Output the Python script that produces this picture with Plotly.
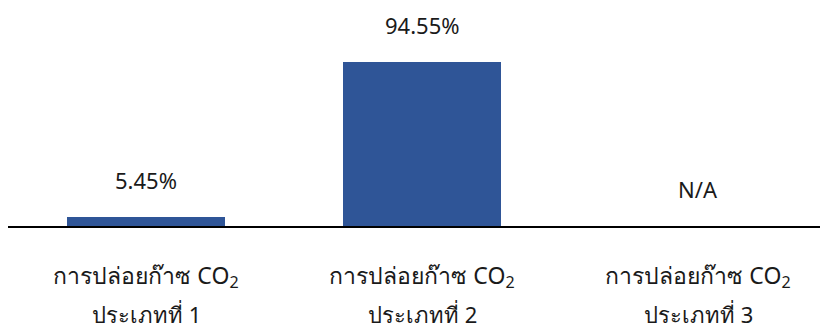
import plotly.graph_objects as go

# ---- data ----
category_line1 = ["การปล่อยก๊าซ CO<sub>2</sub>", "การปล่อยก๊าซ CO<sub>2</sub>", "การปล่อยก๊าซ CO<sub>2</sub>"]
category_line2 = ["ประเภทที่ 1", "ประเภทที่ 2", "ประเภทที่ 3"]
values = [5.45, 94.55, None]
value_labels = ["5.45%", "94.55%", "N/A"]

positions = list(range(len(values)))
FONT = "Noto Sans, sans-serif"
TEXT_COLOR = "#1a1a1a"
BAR_COLOR = "#2F5597"

fig = go.Figure()
fig.add_trace(go.Bar(
    x=positions,
    y=values,
    width=0.57,
    marker=dict(color=BAR_COLOR, line=dict(width=0)),
    hoverinfo="skip",
))

# value labels above bars
for xi, v, lab in zip(positions, values, value_labels):
    fig.add_annotation(
        x=xi, y=(v if v is not None else 0), xref="x", yref="y",
        text=lab, showarrow=False, yanchor="middle", yshift=37,
        font=dict(family=FONT, size=22, color=TEXT_COLOR),
    )

# second line of category labels
for xi, lab in zip(positions, category_line2):
    fig.add_annotation(
        x=xi, y=0, xref="x", yref="paper",
        text=lab, showarrow=False, yanchor="middle", yshift=-88,
        font=dict(family=FONT, size=22, color=TEXT_COLOR),
    )

fig.update_layout(
    width=820, height=333,
    margin=dict(l=8, r=0, t=0, b=107),
    paper_bgcolor="white", plot_bgcolor="white",
    showlegend=False,
    bargap=0,
    font=dict(family=FONT, size=22, color=TEXT_COLOR),
    xaxis=dict(
        tickmode="array", tickvals=positions, ticktext=category_line1,
        range=[-0.5, 2.442],
        showline=True, linecolor="black", linewidth=2,
        showgrid=False, zeroline=False, ticks="",
        ticklabelstandoff=28,
        tickfont=dict(family=FONT, size=23, color=TEXT_COLOR),
    ),
    yaxis=dict(
        range=[0, 130.1], visible=False, showgrid=False, zeroline=False,
    ),
)

fig.write_html("out.html")
